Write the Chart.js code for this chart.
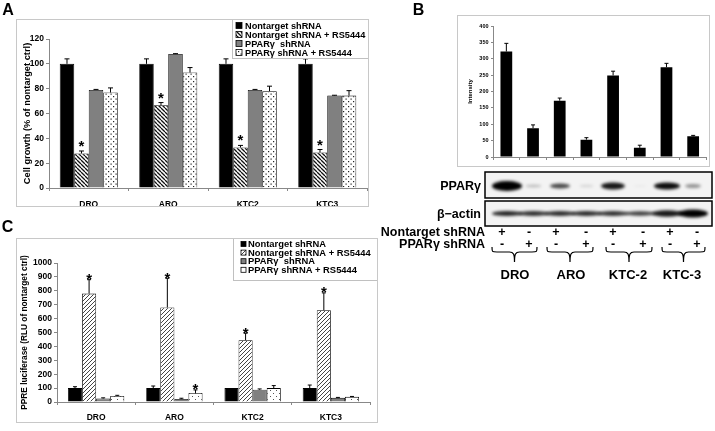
<!DOCTYPE html>
<html>
<head>
<meta charset="utf-8">
<script src="https://cdn.jsdelivr.net/npm/chart.js@4.4.0/dist/chart.umd.min.js"></script>
<style>
  body { margin: 0; width: 715px; height: 431px; position: relative; overflow: hidden; background: #fff;
         font-family: "Liberation Sans", Arial, sans-serif; font-weight: bold; color: #000; }
  .frame { position: absolute; border: 1px solid #c8c8c8; background: #fff; }
  .frame canvas { display: block; }
  .lbl { position: absolute; white-space: nowrap; line-height: 1; }
  #blot { position: absolute; left: 483px; top: 170px; }
  #braces { position: absolute; left: 0; top: 0; }
</style>
</head>
<body>

<div class="frame" style="left:16px;top:19px;width:351px;height:186px"><canvas id="chartA" width="351" height="186"></canvas></div>
<div class="frame" style="left:457px;top:15px;width:251px;height:150px"><canvas id="chartB" width="251" height="150"></canvas></div>
<div class="frame" style="left:16px;top:238px;width:360px;height:183px"><canvas id="chartC" width="360" height="183"></canvas></div>
<canvas id="blot" width="232" height="60"></canvas>
<svg id="braces" width="715" height="431"></svg>

<script>
const FONT = '"Liberation Sans", Arial, sans-serif';

// ---------------- DATA ----------------
const cellLines = ["DRO", "ARO", "KTC2", "KTC3"];
const seriesNames = ["Nontarget shRNA", "Nontarget shRNA + RS5444", "PPARγ  shRNA", "PPARγ shRNA + RS5444"];

// panel A: cell growth (% of nontarget ctrl)
const growthCtrl = [100, 100, 100, 100];
const growthCtrlErr = [4, 4, 4, 4];
const growthRS = [27.8, 66.6, 32.6, 28.6];
const growthRSErr = [2, 2.2, 1.7, 2.4];
const growthKD = [79, 107.9, 79, 74.4];
const growthKDErr = [0.4, 0.3, 0.4, 0.3];
const growthKDRS = [76.9, 93, 78, 74.4];
const growthKDRSErr = [3.7, 4, 4, 4];
const growthRSStars = [true, true, true, true];

// panel B: PPARγ intensity per lane
const laneNames = ["DRO ctrl", "DRO kd", "ARO ctrl", "ARO kd", "KTC-2 ctrl", "KTC-2 kd", "KTC-3 ctrl", "KTC-3 kd"];
const intensity = [322, 88, 172, 53, 249, 28, 274, 63];
const intensityErr = [25, 10, 8, 6, 13, 8, 12, 3];
const nontargetSigns = ["+", "-", "+", "-", "+", "-", "+", "-"];
const pparSigns = ["-", "+", "-", "+", "-", "+", "-", "+"];
const blotGroups = ["DRO", "ARO", "KTC-2", "KTC-3"];
const pparBand = [1, 0.22, 0.7, 0.12, 0.9, 0.04, 0.95, 0.4];
const actinBand = [0.85, 0.8, 0.82, 0.82, 0.8, 0.75, 0.9, 1];

// panel C: PPRE luciferase (RLU of nontarget ctrl)
const lucCtrl = [100, 100, 100, 100];
const lucCtrlErr = [10, 15, 0, 22];
const lucRS = [780, 680, 445, 660];
const lucRSErr = [100, 210, 50, 125];
const lucKD = [25, 22, 88, 30];
const lucKDErr = [5, 5, 6, 3];
const lucKDRS = [43, 65, 100, 37];
const lucKDRSErr = [5, 22, 18, 3];
const lucRSStars = [true, true, true, true];
const lucKDRSStars = [false, true, false, false];

// ---------------- FILLS ----------------
function hatch(size, dir, color, lw) {
  const c = document.createElement("canvas");
  c.width = c.height = size;
  const g = c.getContext("2d");
  g.fillStyle = "#fff";
  g.fillRect(0, 0, size, size);
  g.strokeStyle = color;
  g.lineWidth = lw;
  g.beginPath();
  for (let k = -1; k <= 1; k++) {
    if (dir === "back") { g.moveTo(k * size, 0); g.lineTo(k * size + size, size); }
    else { g.moveTo(k * size, size); g.lineTo(k * size + size, 0); }
  }
  g.stroke();
  return g.createPattern(c, "repeat");
}
function dots(size, color, r) {
  const c = document.createElement("canvas");
  c.width = c.height = size;
  const g = c.getContext("2d");
  g.fillStyle = "#fff";
  g.fillRect(0, 0, size, size);
  g.fillStyle = color;
  g.fillRect(1, 1, r, r);
  g.fillRect(size / 2 + 1, size / 2 + 1, r, r);
  return g.createPattern(c, "repeat");
}
const hatchA = hatch(4, "back", "#111", 1.3);
const hatchC = hatch(4, "fwd", "#444", 1);
const dotsA = dots(5, "#222", 1.2);
const dotsC = dots(6, "#555", 1);

// ---------------- PLUGIN: error bars, stars, legend ----------------
const extras = {
  id: "extras",
  afterDatasetsDraw(chart, args, o) {
    const ctx = chart.ctx, y = chart.scales.y;
    ctx.save();
    ctx.strokeStyle = "#000";
    ctx.fillStyle = "#000";
    ctx.lineWidth = 1;
    chart.data.datasets.forEach((ds, di) => {
      chart.getDatasetMeta(di).data.forEach((bar, i) => {
        const err = ds.errors ? ds.errors[i] : 0;
        const top = y.getPixelForValue(ds.data[i] + err);
        if (err > 0) {
          ctx.beginPath();
          ctx.moveTo(bar.x, bar.y);
          ctx.lineTo(bar.x, top);
          ctx.moveTo(bar.x - o.cap, top);
          ctx.lineTo(bar.x + o.cap, top);
          ctx.stroke();
        }
        if (ds.stars && ds.stars[i]) {
          ctx.font = `bold ${o.starSize}px ${FONT}`;
          ctx.textAlign = "center";
          ctx.textBaseline = "alphabetic";
          ctx.fillText("*", bar.x, top + o.starShift);
        }
      });
    });
    ctx.restore();
  },
  afterDraw(chart, args, o) {
    const L = o.legend;
    if (!L) return;
    const ctx = chart.ctx;
    ctx.save();
    ctx.fillStyle = "#fff";
    ctx.fillRect(L.x, -2, L.w, L.h + 2);
    ctx.strokeStyle = "#c0c0c0";
    ctx.lineWidth = 1;
    ctx.strokeRect(L.x + 0.5, -2, L.w + 2, L.h + 2.5);
    ctx.font = `bold ${L.size}px ${FONT}`;
    ctx.textBaseline = "middle";
    ctx.textAlign = "left";
    L.items.forEach((it, i) => {
      const cy = L.row0 + i * L.step;
      ctx.fillStyle = it.fill;
      ctx.fillRect(L.sx, cy - L.sw / 2, L.sw, L.sw);
      ctx.strokeStyle = "#000";
      ctx.lineWidth = 0.8;
      ctx.strokeRect(L.sx, cy - L.sw / 2, L.sw, L.sw);
      ctx.fillStyle = "#000";
      ctx.fillText(it.label, L.tx, cy + 0.5);
    });
    ctx.restore();
  }
};

function barChart(id, labels, datasets, o) {
  return new Chart(document.getElementById(id), {
    type: "bar",
    data: { labels, datasets },
    options: {
      responsive: false,
      animation: false,
      layout: { padding: o.padding },
      datasets: { bar: { categoryPercentage: o.catPct, barPercentage: o.barPct, borderColor: "#000", borderWidth: o.bw } },
      plugins: { legend: { display: false }, tooltip: { enabled: false }, extras: o.extras },
      scales: {
        x: {
          offset: true,
          grid: { offset: true, drawOnChartArea: false, tickLength: 3, color: "#888" },
          border: { color: "#888" },
          ticks: { display: o.xLabels, font: { size: o.tickSize, weight: "bold" }, color: "#000", padding: o.xPad, maxRotation: 0, autoSkip: false },
          afterFit: a => { a.height = o.xh; }
        },
        y: {
          min: 0, max: o.max,
          ticks: { stepSize: o.step, font: { size: o.yTickSize, weight: "bold" }, color: "#000", padding: o.yPad, callback: v => String(v) },
          grid: { drawOnChartArea: false, tickLength: o.yTick, color: "#888" },
          border: { color: "#888" },
          title: { display: true, text: o.title, color: "#000", font: { size: o.titleSize, weight: "bold" }, padding: { top: o.titlePad, bottom: 0 } },
          afterFit: a => { a.width = o.yw; }
        }
      }
    },
    plugins: [extras]
  });
}

// ---------------- PANEL A ----------------
const fillsA = ["#000", hatchA, "#808080", dotsA];
barChart("chartA", cellLines, [
  { label: seriesNames[0], data: growthCtrl, errors: growthCtrlErr, backgroundColor: fillsA[0] },
  { label: seriesNames[1], data: growthRS, errors: growthRSErr, stars: growthRSStars, backgroundColor: fillsA[1] },
  { label: seriesNames[2], data: growthKD, errors: growthKDErr, backgroundColor: fillsA[2] },
  { label: seriesNames[3], data: growthKDRS, errors: growthKDRSErr, backgroundColor: fillsA[3] }
], {
  padding: { top: 19, right: 1, left: 0, bottom: 0 },
  catPct: 0.73, barPct: 1, bw: 0.8,
  xLabels: true, tickSize: 8.5, xPad: 9, xh: 18,
  max: 120, step: 20, yTickSize: 8.5, yPad: 2, yTick: 3, yw: 32,
  title: "Cell growth (% of nontarget ctrl)", titleSize: 9.3, titlePad: 5,
  extras: {
    cap: 2.5, starSize: 15, starShift: 0,
    legend: { x: 215, w: 136, h: 38, size: 9.2, row0: 5.5, step: 9, sx: 219, sw: 6, tx: 228,
              items: seriesNames.map((s, i) => ({ label: s, fill: fillsA[i] })) }
  }
});

// ---------------- PANEL B ----------------
barChart("chartB", laneNames, [
  { label: "Intensity", data: intensity, errors: intensityErr, backgroundColor: "#000" }
], {
  padding: { top: 10, right: 2.5, left: 0, bottom: 0 },
  catPct: 1, barPct: 0.44, bw: 0,
  xLabels: false, tickSize: 6, xPad: 0, xh: 9,
  max: 400, step: 50, yTickSize: 5.5, yPad: 2.5, yTick: 2, yw: 35,
  title: "Intensity", titleSize: 6, titlePad: 8.5,
  extras: { cap: 2, starSize: 10, starShift: 0 }
});

// ---------------- PANEL C ----------------
const fillsC = ["#000", hatchC, "#808080", dotsC];
const legendFillsC = ["#000", hatchC, "#808080", "#fff"];
barChart("chartC", cellLines, [
  { label: seriesNames[0], data: lucCtrl, errors: lucCtrlErr, backgroundColor: fillsC[0] },
  { label: seriesNames[1], data: lucRS, errors: lucRSErr, stars: lucRSStars, backgroundColor: fillsC[1] },
  { label: seriesNames[2], data: lucKD, errors: lucKDErr, backgroundColor: fillsC[2] },
  { label: seriesNames[3], data: lucKDRS, errors: lucKDRSErr, stars: lucKDRSStars, backgroundColor: fillsC[3] }
], {
  padding: { top: 24, right: 7, left: 0, bottom: 0 },
  catPct: 0.72, barPct: 1, bw: 0.8,
  xLabels: true, tickSize: 8.5, xPad: 8, xh: 20,
  max: 1000, step: 100, yTickSize: 8.5, yPad: 2, yTick: 3, yw: 40,
  title: "PPRE luciferase (RLU of nontarget ctrl)", titleSize: 8.3, titlePad: 3,
  extras: {
    cap: 2, starSize: 15, starShift: 4.5,
    legend: { x: 216, w: 145, h: 41, size: 9.4, row0: 5, step: 8.6, sx: 224, sw: 5, tx: 231,
              items: seriesNames.map((s, i) => ({ label: s, fill: legendFillsC[i] })) }
  }
});

// ---------------- BLOT ----------------
const laneX = [507, 533.5, 560, 586.5, 613, 640, 667, 693];
(function drawBlot() {
  const ctx = document.getElementById("blot").getContext("2d");
  const ox = 483, oy = 170;
  const boxes = [{ top: 172, bottom: 198, cy: 186, w: [30, 16, 20, 14, 24, 12, 26, 16], h: [10, 3, 5, 2.5, 7, 2, 7, 4], a: pparBand },
                 { top: 201, bottom: 226, cy: 213.5, w: [30, 30, 30, 30, 30, 30, 30, 30], h: [5, 5, 5, 5, 5, 4.5, 6.5, 8], a: actinBand }];
  boxes.forEach(b => {
    ctx.fillStyle = "#f3f3f3";
    ctx.fillRect(485 - ox, b.top - oy, 227, b.bottom - b.top);
    ctx.save();
    ctx.beginPath();
    ctx.rect(485 - ox, b.top - oy, 227, b.bottom - b.top);
    ctx.clip();
    ctx.filter = "blur(1.4px)";
    laneX.forEach((x, i) => {
      ctx.fillStyle = `rgba(0,0,0,${b.a[i]})`;
      ctx.beginPath();
      ctx.ellipse(x - ox, b.cy - oy, b.w[i] / 2, b.h[i] / 2, 0, 0, Math.PI * 2);
      ctx.fill();
    });
    ctx.restore();
    ctx.strokeStyle = "#000";
    ctx.lineWidth = 1.5;
    ctx.strokeRect(485 - ox, b.top - oy, 227, b.bottom - b.top);
  });
})();

// ---------------- TEXT ----------------
function txt(s, x, y, size, align) {
  const d = document.createElement("div");
  d.className = "lbl";
  d.textContent = s;
  d.style.left = x + "px";
  d.style.top = y + "px";
  d.style.fontSize = size + "px";
  d.style.transform = align === "right" ? "translate(-100%,-50%)" : "translate(-50%,-50%)";
  document.body.appendChild(d);
}
txt("A", 8, 9.5, 16);
txt("B", 418.5, 9.5, 16);
txt("C", 7.5, 227, 16);
txt("PPARγ", 481, 186, 12.5, "right");
txt("β−actin", 481, 214, 12.5, "right");
txt("Nontarget shRNA", 485, 232, 12.5, "right");
txt("PPARγ shRNA", 485, 244, 12.5, "right");
const signX = [502, 529, 556, 586, 613, 643, 670, 697];
signX.forEach((x, i) => {
  txt(nontargetSigns[i], x, 232, 12.5);
  txt(pparSigns[i], x, 244, 12.5);
});

// braces + group names
const braceSpan = [[492, 537], [547, 593], [606, 652], [662, 705]];
const groupX = [515, 571, 628, 682];
const svg = document.getElementById("braces");
let paths = "";
blotGroups.forEach((g, k) => {
  const [xl, xr] = braceSpan[k], cx = (xl + xr) / 2;
  paths += `<path d="M${xl} 247 C${xl} 252 ${xl} 252 ${xl + 5} 252 L${cx - 5} 252 C${cx - 1} 252 ${cx} 254 ${cx} 262 C${cx} 254 ${cx + 1} 252 ${cx + 5} 252 L${xr - 5} 252 C${xr} 252 ${xr} 252 ${xr} 247" fill="none" stroke="#000" stroke-width="1.2"/>`;
  txt(g, groupX[k], 274, 13);
});
svg.innerHTML = paths;
</script>
</body>
</html>
